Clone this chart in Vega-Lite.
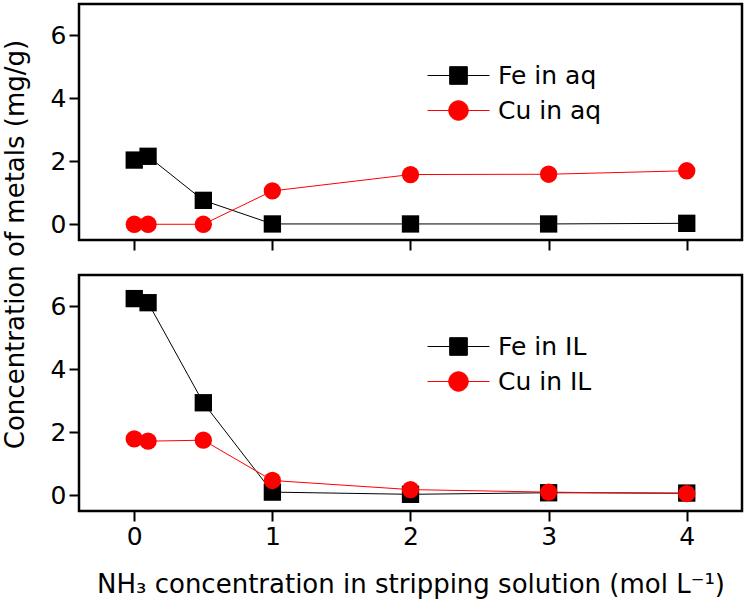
{
  "$schema": "https://vega.github.io/schema/vega-lite/v6.json",
  "background": "white",
  "padding": {"left": 0, "top": 2, "right": 1, "bottom": 0},
  "config": {
    "font": "DejaVu Sans",
    "view": {"stroke": "black", "strokeWidth": 2.5},
    "axis": {
      "domain": false, "grid": false,
      "tickColor": "black", "tickWidth": 2, "tickSize": 10,
      "labelColor": "black", "labelFont": "DejaVu Sans", "labelFontSize": 25, "labelPadding": 3,
      "titleFont": "DejaVu Sans", "titleFontSize": 26, "titleFontWeight": "normal", "titleColor": "black"
    },
    "legend": {
      "padding": 0, "labelFont": "DejaVu Sans", "labelFontSize": 25, "labelColor": "black",
      "symbolSize": 324, "symbolOffset": 22, "labelOffset": 27, "rowPadding": 9, "symbolStrokeWidth": 1
    }
  },
  "datasets": {
    "aq": [
      {"nh3": 0, "conc": 2.04, "series": "Fe in aq"},
      {"nh3": 0.1, "conc": 2.16, "series": "Fe in aq"},
      {"nh3": 0.5, "conc": 0.76, "series": "Fe in aq"},
      {"nh3": 1, "conc": 0.01, "series": "Fe in aq"},
      {"nh3": 2, "conc": 0.01, "series": "Fe in aq"},
      {"nh3": 3, "conc": 0.01, "series": "Fe in aq"},
      {"nh3": 4, "conc": 0.03, "series": "Fe in aq"},
      {"nh3": 0, "conc": 0.0, "series": "Cu in aq"},
      {"nh3": 0.1, "conc": 0.0, "series": "Cu in aq"},
      {"nh3": 0.5, "conc": 0.0, "series": "Cu in aq"},
      {"nh3": 1, "conc": 1.06, "series": "Cu in aq"},
      {"nh3": 2, "conc": 1.58, "series": "Cu in aq"},
      {"nh3": 3, "conc": 1.59, "series": "Cu in aq"},
      {"nh3": 4, "conc": 1.7, "series": "Cu in aq"}
    ],
    "il": [
      {"nh3": 0, "conc": 6.25, "series": "Fe in IL"},
      {"nh3": 0.1, "conc": 6.12, "series": "Fe in IL"},
      {"nh3": 0.5, "conc": 2.94, "series": "Fe in IL"},
      {"nh3": 1, "conc": 0.1, "series": "Fe in IL"},
      {"nh3": 2, "conc": 0.03, "series": "Fe in IL"},
      {"nh3": 3, "conc": 0.08, "series": "Fe in IL"},
      {"nh3": 4, "conc": 0.07, "series": "Fe in IL"},
      {"nh3": 0, "conc": 1.79, "series": "Cu in IL"},
      {"nh3": 0.1, "conc": 1.72, "series": "Cu in IL"},
      {"nh3": 0.5, "conc": 1.75, "series": "Cu in IL"},
      {"nh3": 1, "conc": 0.47, "series": "Cu in IL"},
      {"nh3": 2, "conc": 0.18, "series": "Cu in IL"},
      {"nh3": 3, "conc": 0.1, "series": "Cu in IL"},
      {"nh3": 4, "conc": 0.05, "series": "Cu in IL"}
    ]
  },
  "spacing": 35,
  "bounds": "flush",
  "resolve": {
    "scale": {"fill": "independent", "stroke": "independent", "shape": "independent", "x": "independent", "y": "independent"},
    "legend": {"fill": "independent", "stroke": "independent", "shape": "independent"}
  },
  "vconcat": [
    {
      "width": 663, "height": 236,
      "data": {"name": "aq"},
      "encoding": {
        "x": {"field": "nh3", "type": "quantitative",
          "scale": {"domain": [-0.4, 4.4], "nice": false, "zero": false},
          "axis": {"values": [0, 1, 2, 3, 4], "labels": false, "title": null}},
        "y": {"field": "conc", "type": "quantitative",
          "scale": {"domain": [-0.5, 7], "nice": false, "zero": false},
          "axis": {"values": [0, 2, 4, 6], "title": "Concentration of metals (mg/g)", "titleY": 240, "titlePadding": 22}}
      },
      "layer": [
        {"transform": [{"filter": "datum.series == 'Fe in aq'"}],
          "mark": {"type": "line", "strokeWidth": 1, "color": "#000000"}},
        {"transform": [{"filter": "datum.series == 'Cu in aq'"}],
          "mark": {"type": "line", "strokeWidth": 1, "color": "#ff0000"}},
        {"transform": [{"filter": "false"}],
          "mark": {"type": "point", "filled": true, "size": 324, "opacity": 1, "strokeWidth": 1},
          "encoding": {
            "fill": {"field": "series", "type": "nominal",
              "scale": {"domain": ["Fe in aq", "Cu in aq"], "range": ["#000000", "#ff0000"]},
              "legend": {"title": null, "orient": "none", "legendX": 345, "legendY": 59}},
            "stroke": {"field": "series", "type": "nominal",
              "scale": {"domain": ["Fe in aq", "Cu in aq"], "range": ["#000000", "#ff0000"]},
              "legend": {"title": null, "orient": "none", "legendX": 345, "legendY": 59}},
            "shape": {"field": "series", "type": "nominal",
              "scale": {"domain": ["Fe in aq", "Cu in aq"], "range": ["M-3.44,0H3.44M-0.98,-0.98H0.98V0.98H-0.98Z", "M-3.44,0H3.44M-1.08,0A1.08,1.08,0,1,1,1.08,0A1.08,1.08,0,1,1,-1.08,0Z"]},
              "legend": {"title": null, "orient": "none", "legendX": 345, "legendY": 59}}
          }},
        {"transform": [{"filter": "datum.series == 'Fe in aq'"}],
          "mark": {"type": "point", "shape": "square", "filled": true, "size": 300, "opacity": 1, "color": "#000000"}},
        {"transform": [{"filter": "datum.series == 'Cu in aq'"}],
          "mark": {"type": "point", "shape": "circle", "filled": true, "size": 300, "opacity": 1, "color": "#ff0000"}}
      ]
    },
    {
      "width": 663, "height": 236,
      "data": {"name": "il"},
      "encoding": {
        "x": {"field": "nh3", "type": "quantitative",
          "scale": {"domain": [-0.4, 4.4], "nice": false, "zero": false},
          "axis": {"values": [0, 1, 2, 3, 4], "title": "NH₃ concentration in stripping solution (mol L⁻¹)", "titlePadding": 22}},
        "y": {"field": "conc", "type": "quantitative",
          "scale": {"domain": [-0.5, 7], "nice": false, "zero": false},
          "axis": {"values": [0, 2, 4, 6], "title": null}}
      },
      "layer": [
        {"transform": [{"filter": "datum.series == 'Fe in IL'"}],
          "mark": {"type": "line", "strokeWidth": 1, "color": "#000000"}},
        {"transform": [{"filter": "datum.series == 'Cu in IL'"}],
          "mark": {"type": "line", "strokeWidth": 1, "color": "#ff0000"}},
        {"transform": [{"filter": "false"}],
          "mark": {"type": "point", "filled": true, "size": 324, "opacity": 1, "strokeWidth": 1},
          "encoding": {
            "fill": {"field": "series", "type": "nominal",
              "scale": {"domain": ["Fe in IL", "Cu in IL"], "range": ["#000000", "#ff0000"]},
              "legend": {"title": null, "orient": "none", "legendX": 345, "legendY": 59}},
            "stroke": {"field": "series", "type": "nominal",
              "scale": {"domain": ["Fe in IL", "Cu in IL"], "range": ["#000000", "#ff0000"]},
              "legend": {"title": null, "orient": "none", "legendX": 345, "legendY": 59}},
            "shape": {"field": "series", "type": "nominal",
              "scale": {"domain": ["Fe in IL", "Cu in IL"], "range": ["M-3.44,0H3.44M-0.98,-0.98H0.98V0.98H-0.98Z", "M-3.44,0H3.44M-1.08,0A1.08,1.08,0,1,1,1.08,0A1.08,1.08,0,1,1,-1.08,0Z"]},
              "legend": {"title": null, "orient": "none", "legendX": 345, "legendY": 59}}
          }},
        {"transform": [{"filter": "datum.series == 'Fe in IL'"}],
          "mark": {"type": "point", "shape": "square", "filled": true, "size": 300, "opacity": 1, "color": "#000000"}},
        {"transform": [{"filter": "datum.series == 'Cu in IL'"}],
          "mark": {"type": "point", "shape": "circle", "filled": true, "size": 300, "opacity": 1, "color": "#ff0000"}}
      ]
    }
  ]
}
